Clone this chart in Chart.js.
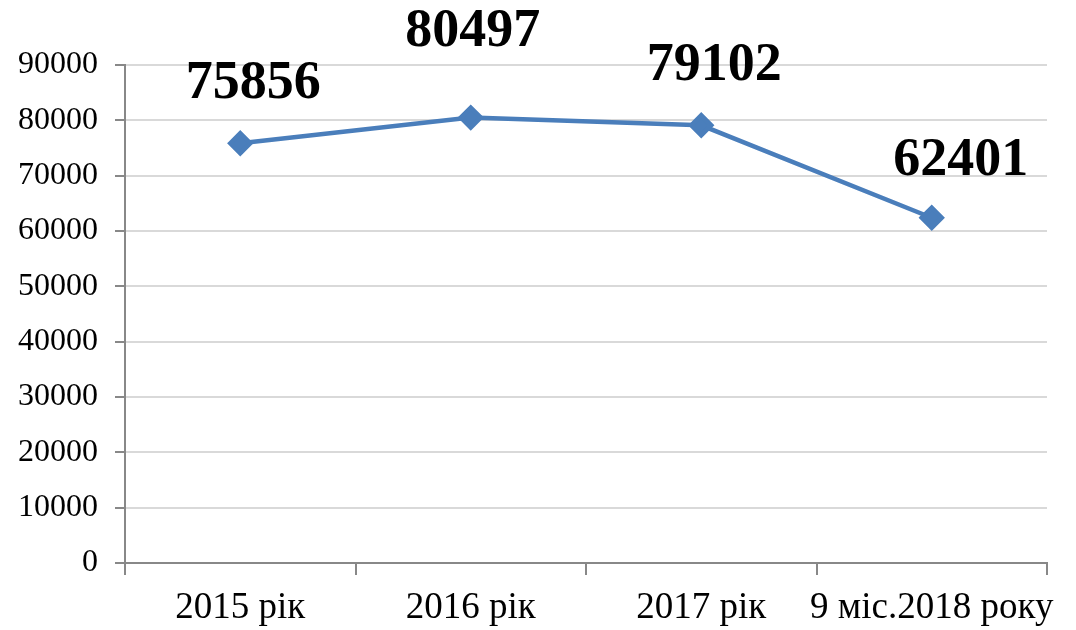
<!DOCTYPE html>
<html>
<head>
<meta charset="utf-8">
<script src="https://cdn.jsdelivr.net/npm/chart.js@4.4.0/dist/chart.umd.min.js"></script>
<style>
  html, body { margin: 0; padding: 0; background: #fff; }
  #wrap { width: 1076px; height: 630px; }
</style>
</head>
<body>
<div id="wrap"><canvas id="lineChart"></canvas></div>
<script>
const categories = ["2015 рік", "2016 рік", "2017 рік", "9 міс.2018 року"];
const values = [75856, 80497, 79102, 62401];
const yTicks = [0, 10000, 20000, 30000, 40000, 50000, 60000, 70000, 80000, 90000];

// label offsets from the point (px), as placed in the original
const labelDx = [13, 2, 13, 29];
const labelDy = [-59, -86, -59, -57];

const serif = '"Liberation Serif", "Times New Roman", serif';

const valueLabels = {
  id: "valueLabels",
  afterDatasetsDraw(chart) {
    const ctx = chart.ctx;
    const meta = chart.getDatasetMeta(0);
    ctx.save();
    ctx.font = "bold 54px " + serif;
    ctx.fillStyle = "#000";
    ctx.textAlign = "center";
    ctx.textBaseline = "middle";
    meta.data.forEach((pt, i) => {
      ctx.fillText(String(values[i]), pt.x + labelDx[i], pt.y + labelDy[i]);
    });
    ctx.restore();
  },
};

new Chart(document.getElementById("lineChart"), {
  type: "line",
  data: {
    labels: categories,
    datasets: [
      {
        data: values,
        borderColor: "#4a7ebb",
        backgroundColor: "#4a7ebb",
        borderWidth: 4.5,
        pointStyle: "rectRot",
        pointRadius: 10,
        pointHoverRadius: 10,
        tension: 0,
        fill: false,
      },
    ],
  },
  options: {
    responsive: true,
    maintainAspectRatio: false,
    animation: false,
    layout: { padding: { top: 65, right: 29, left: 0, bottom: 0 } },
    plugins: { legend: { display: false }, tooltip: { enabled: false } },
    scales: {
      x: {
        offset: true,
        grid: {
          offset: true,
          drawOnChartArea: false,
          drawTicks: true,
          tickLength: 12,
          tickColor: "#888",
          lineWidth: 2,
        },
        border: { color: "#888", width: 2 },
        ticks: {
          color: "#000",
          font: { family: serif, size: 37 },
          padding: 11,
          maxRotation: 0,
          autoSkip: false,
        },
        afterFit(scale) {
          scale.height = 67;
        },
      },
      y: {
        min: 0,
        max: 90000,
        afterBuildTicks(scale) {
          scale.ticks = yTicks.map((v) => ({ value: v }));
        },
        grid: {
          color: "#d9d9d9",
          lineWidth: 2,
          tickLength: 10,
          tickColor: "#888",
        },
        border: { color: "#888", width: 2 },
        ticks: {
          color: "#000",
          font: { family: serif, size: 32 },
          padding: 17,
          callback: (v) => String(v),
        },
        afterFit(scale) {
          scale.width = 125;
        },
      },
    },
  },
  plugins: [valueLabels],
});
</script>
</body>
</html>
